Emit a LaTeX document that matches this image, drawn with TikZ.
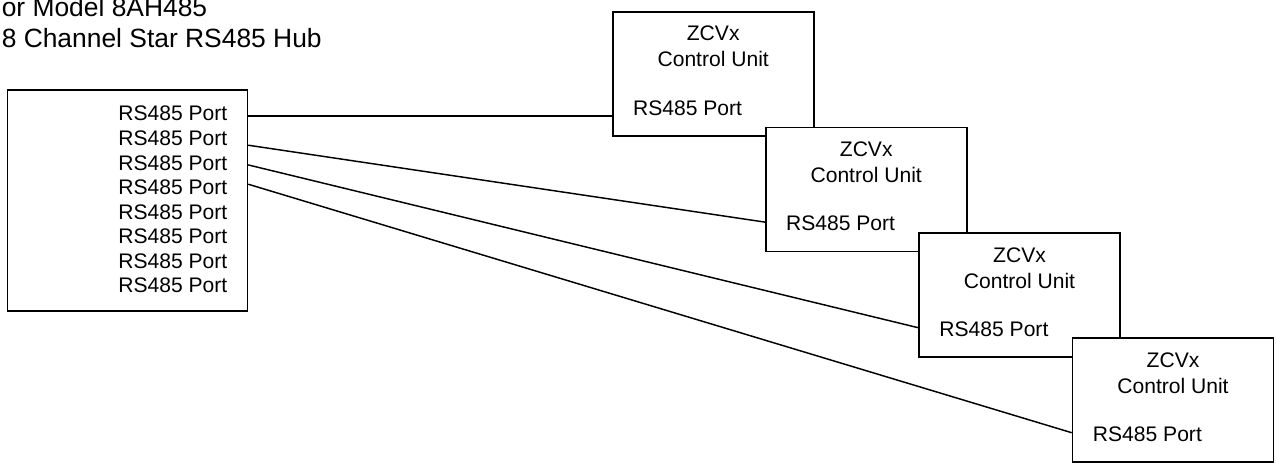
\documentclass[tikz,border=0pt]{standalone}
\usepackage{fontspec}
\setmainfont{Liberation Sans}
\usetikzlibrary{positioning,calc}
\tikzset{
	boite/.style={draw,line width=1.2pt,inner sep=0pt},
	unit/.style={boite,fill=white,minimum width=150.75pt,minimum height=93pt},
	fil/.style={line width=1.1pt},
	txt/.style={inner sep=0pt,font=\fontsize{15.8}{18.4}\selectfont}
}
\begin{document}
\begin{tikzpicture}[x=0.75pt,y=-0.75pt]
\useasboundingbox (0,0) rectangle (1276,462); % Page size

%Titre
\node[inner sep=0pt,anchor=base west,align=left,font=\fontsize{19.8}{23.25}\selectfont] (titre) at (1.5,47.7) {or Model 8AH485\\8 Channel Star RS485 Hub};

%Hub
\node[boite,minimum width=180pt,minimum height=165.75pt] (hub) at (127.4,200.5) {};
\node[txt,align=right,anchor=base east] (ports) at (227.5,292.7) {RS485 Port\\RS485 Port\\RS485 Port\\RS485 Port\\RS485 Port\\RS485 Port\\RS485 Port\\RS485 Port};

%Unites de controle
\node[unit] (cu1) at (713.2,74) {};
\node[txt,align=center,anchor=base,font=\fontsize{15.8}{19.5}\selectfont] (n1) at ($(cu1.north)+(0,55.7)$) {ZCVx\\Control Unit};
\node[txt,anchor=base west] (p1) at ($(cu1.north west)+(21,104)$) {RS485 Port};

\node[unit] (cu2) at (866.2,189.5) {};
\node[txt,align=center,anchor=base,font=\fontsize{15.8}{19.5}\selectfont] (n2) at ($(cu2.north)+(0,55.7)$) {ZCVx\\Control Unit};
\node[txt,anchor=base west] (p2) at ($(cu2.north west)+(21,104)$) {RS485 Port};

\node[unit] (cu3) at (1019.5,295.2) {};
\node[txt,align=center,anchor=base,font=\fontsize{15.8}{19.5}\selectfont] (n3) at ($(cu3.north)+(0,55.7)$) {ZCVx\\Control Unit};
\node[txt,anchor=base west] (p3) at ($(cu3.north west)+(21,104)$) {RS485 Port};

\node[unit] (cu4) at (1173,400.2) {};
\node[txt,align=center,anchor=base,font=\fontsize{15.8}{19.5}\selectfont] (n4) at ($(cu4.north)+(0,55.7)$) {ZCVx\\Control Unit};
\node[txt,anchor=base west] (p4) at ($(cu4.north west)+(21,104)$) {RS485 Port};

%Extremites des fils
\coordinate (h1) at ($(hub.north east)+(0,26.7)$);
\coordinate (h2) at ($(hub.north east)+(0,56)$);
\coordinate (h3) at ($(hub.north east)+(0,75.7)$);
\coordinate (h4) at ($(hub.north east)+(0,95)$);
\coordinate (e1) at (h1 -| cu1.west);
\coordinate (e2) at ($(cu2.north west)+(0,95.4)$);
\coordinate (e3) at ($(cu3.north west)+(0,95.3)$);
\coordinate (e4) at ($(cu4.north west)+(0,95.3)$);

%Fils
\draw[fil] (h1) -- (e1);
\draw[fil] (h2) -- (e2);
\draw[fil] (h3) -- (e3);
\draw[fil] (h4) -- (e4);

\end{tikzpicture}
\end{document}
